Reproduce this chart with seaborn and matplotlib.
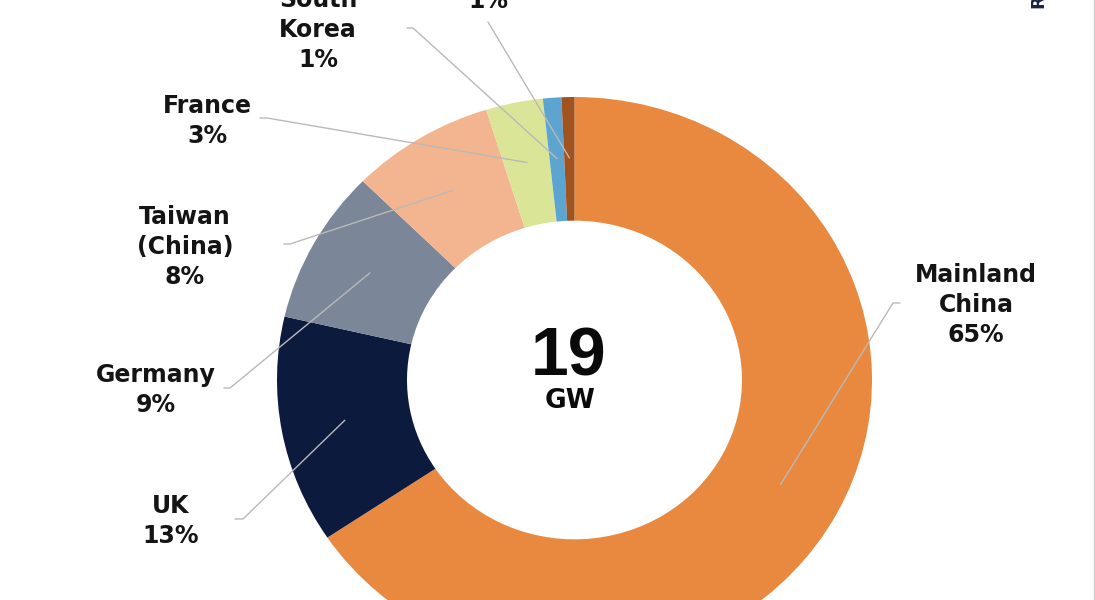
import matplotlib
matplotlib.use("Agg")
import matplotlib.pyplot as plt
from matplotlib.lines import Line2D
import numpy as np
import seaborn as sns

# ---- data ----
categories = ["Mainland\nChina", "UK", "Germany", "Taiwan\n(China)", "France", "South\nKorea", "Others"]
shares = [65.6, 13.0, 8.8, 7.8, 3.1, 1.0, 0.7]          # slice sizes
pct_labels = ["65%", "13%", "9%", "8%", "3%", "1%", "1%"]  # labels as printed
colors_hex = ["#E8893F", "#0C1B3D", "#7B8699", "#F3B58F", "#DAE597", "#5DA5D0", "#A0521F"]
total_value = "19"
total_unit = "GW"

# ---- layout (pixel space of the 1095x600 image) ----
CX, CY = 574.5, 380.0      # donut centre in pixels
RX, RY = 297.5, 283.0      # outer radius in px (x / y)
INNER = 0.563
label_pos = [(976, 305), (171, 521), (156, 390), (185, 247), (207, 121), (318, 30), (488, -14)]
kink_pos = [(893, 303), (243, 519), (230, 388), (290, 244), (267, 118), (413, 28), (488, 22)]
tail_dx = [7, -8, -6, -6, -7, -6, 0]

sns.set_theme(style="white")
plt.rcParams["font.family"] = ["DejaVu Sans"]

fig = plt.figure(figsize=(10.95, 6.0), dpi=100)
fig.patch.set_facecolor("white")
ax = fig.add_axes([0, 0, 1, 1])

palette = sns.color_palette(colors_hex)
wedges, _ = ax.pie(shares, colors=palette, startangle=90, counterclock=False,
                   radius=1.0, wedgeprops=dict(width=1 - INNER, edgecolor="none", linewidth=0))
ax.set_aspect("auto")
ax.set_xlim(-CX / RX, (1095 - CX) / RX)
ax.set_ylim(-(600 - CY) / RY, CY / RY)
ax.axis("off")


def px2d(px, py):
    return (px - CX) / RX, (CY - py) / RY


line_col = "#b9b9b9"
for i, w in enumerate(wedges):
    mid = np.deg2rad((w.theta1 + w.theta2) / 2)
    sx, sy = 0.785 * np.cos(mid), 0.785 * np.sin(mid)
    kx, ky = px2d(*kink_pos[i])
    ex, ey = px2d(kink_pos[i][0] + tail_dx[i], kink_pos[i][1])
    ax.add_line(Line2D([sx, kx, ex], [sy, ky, ey], color=line_col, lw=1.0, zorder=3))
    lx, ly = px2d(*label_pos[i])
    ax.text(lx, ly, f"{categories[i]}\n{pct_labels[i]}", ha="center", va="center",
            fontsize=17, fontweight="bold", color="#141414", linespacing=1.33, zorder=4)

# centre text
tx, ty = px2d(569, 358)
ax.text(tx, ty, total_value, ha="center", va="center", fontsize=49, fontweight="bold",
        family=["Liberation Sans", "DejaVu Sans"], color="#0a0a0a")
gx, gy = px2d(570, 401)
ax.text(gx, gy, total_unit, ha="center", va="center", fontsize=19, fontweight="bold",
        color="#0a0a0a")

# cut-off rotated source text at top right
fig.text(1040 / 1095, 1 - 9 / 600, "Rystad Energy", rotation=90, ha="center", va="bottom",
         fontsize=13, fontweight="bold", color="#1b2440")
fig.add_artist(Line2D([1093.5 / 1095] * 2, [0, 1], color="#d0d0d0", lw=1.0))

fig.savefig("out.png", dpi=100, facecolor="white")
